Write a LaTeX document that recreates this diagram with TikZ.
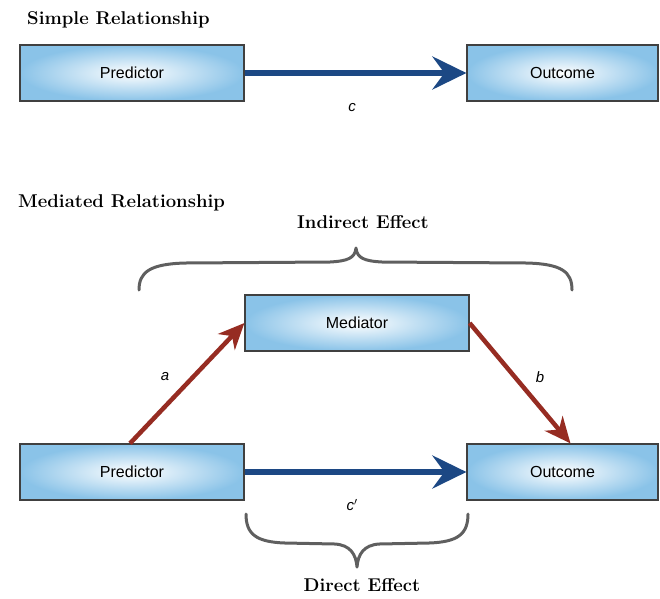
\documentclass[tikz,border=0pt]{standalone}
\usepackage{fontspec}
\setsansfont{Liberation Sans}
\usetikzlibrary{arrows.meta, positioning, calc}

\definecolor{boxblue}{RGB}{138,195,232}
\definecolor{pathblue}{RGB}{28,72,132}
\definecolor{pathred}{RGB}{150,44,34}
\definecolor{bracegray}{RGB}{95,95,95}

\begin{document}
\begin{tikzpicture}[
  x=1pt, y=-1pt,
  varbox/.style = {draw=black!75, line width=1.2pt, inner color=white, outer color=boxblue,
                   minimum height=56pt, minimum width=224pt, font=\sffamily\fontsize{16}{18}\selectfont},
  title/.style = {font=\fontsize{18.5}{21}\selectfont\bfseries, inner sep=0pt},
  bluearrow/.style = {pathblue, line width=6pt, -{Stealth[length=34pt, width=33pt, inset=12pt]}},
  redarrow/.style = {pathred, line width=4.5pt, -{Stealth[length=26pt, width=23pt, inset=8pt]}},
  pathlabel/.style = {font=\sffamily\itshape\fontsize{15}{17}\selectfont},
  effectbrace/.style = {bracegray, line width=3pt, line cap=round, line join=round}
]
\useasboundingbox (0,0) rectangle (660,598);

% Simple relationship
\node[title, anchor=west] (simple) at (27,20) {Simple Relationship};
\node[varbox] (pred1) at (132,73) {Predictor};
\node[varbox, minimum width=191pt] (out1) at (562.5,73) {Outcome};
\draw[bluearrow] (pred1.east) -- (out1.west);
\node[pathlabel] (c) at (352,108) {c};

% Mediated relationship
\node[title, anchor=west] (mediated) at (18,203) {Mediated Relationship};
\node[varbox] (med) at (357,323) {Mediator};
\node[varbox] (pred2) at (132,472) {Predictor};
\node[varbox, minimum width=191pt] (out2) at (562.5,472) {Outcome};

% paths a, b and c'
\draw[redarrow] ([xshift=-2pt]pred2.north) -- (med.west);
\draw[redarrow] (med.east) -- ([xshift=8pt]out2.north);
\draw[bluearrow] (pred2.east) -- (out2.west);
\node[pathlabel] (a) at (165,377) {a};
\node[pathlabel] (b) at (540,377) {b};
\node[pathlabel] (cprime) at (352,505) {c$'$};

% Indirect effect brace
\coordinate (ind-l) at (139,290);
\coordinate (ind-tip) at (356,248);
\coordinate (ind-r) at (572,290);
\draw[effectbrace] (ind-l) .. controls (139,272) and (150,264) .. (185,263) -- (330,262)
  .. controls (348,261) and (355,258) .. (ind-tip)
  .. controls (357,258) and (364,261) .. (382,262) -- (527,263)
  .. controls (562,264) and (572,272) .. (ind-r);
\node[title] (indirect) at (363,222) {Indirect Effect};

% Direct effect brace
\coordinate (dir-l) at (246,514);
\coordinate (dir-tip) at (357,567);
\coordinate (dir-r) at (468,514);
\draw[effectbrace] (dir-l) .. controls (246,534) and (256,542) .. (285,543) -- (335,544)
  .. controls (350,545) and (356,554) .. (dir-tip)
  .. controls (358,554) and (364,545) .. (379,544) -- (429,543)
  .. controls (458,542) and (468,534) .. (dir-r);
\node[title] (direct) at (362,585) {Direct Effect};

\end{tikzpicture}
\end{document}
